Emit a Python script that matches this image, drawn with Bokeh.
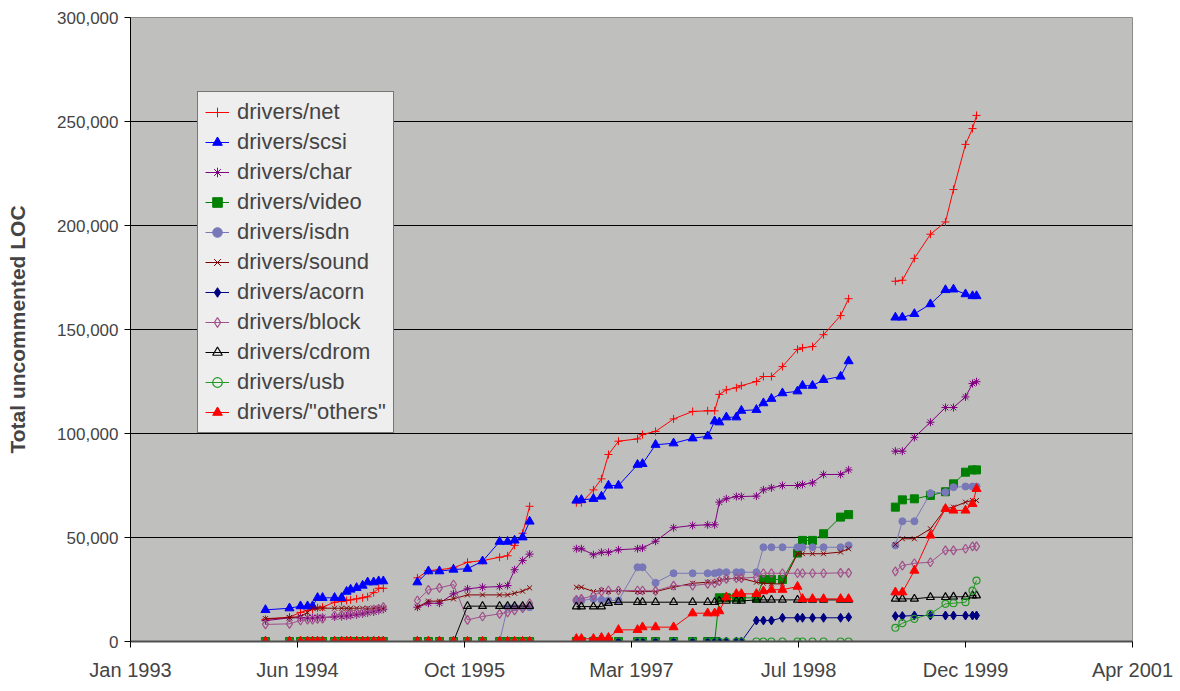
import numpy as np
import pandas as pd
from bokeh.plotting import figure
from bokeh.models import (Range1d, FixedTicker, NumeralTickFormatter,
                          Legend, LegendItem, ColumnDataSource)
from bokeh.embed import file_html
from bokeh.resources import INLINE

# ---- release dates of the four kernel release series ----
dates_s1 = ["1994-03-11", "1994-05-22", "1994-06-24", "1994-07-15", "1994-07-30", "1994-08-14",
            "1994-08-29", "1994-10-04", "1994-10-25", "1994-11-09", "1994-11-21", "1994-12-09",
            "1994-12-27", "1995-01-11", "1995-01-29", "1995-02-13", "1995-02-27"]
dates_s2 = ["1995-06-09", "1995-07-12", "1995-08-14", "1995-09-25", "1995-11-06", "1995-12-21",
            "1996-02-10", "1996-03-05", "1996-03-26", "1996-04-19", "1996-05-10"]
dates_s3 = ["1996-09-27", "1996-10-12", "1996-11-17", "1996-12-11", "1997-01-01", "1997-01-31",
            "1997-03-29", "1997-04-13", "1997-05-22", "1997-07-15", "1997-09-10", "1997-10-25",
            "1997-11-15", "1997-11-29", "1997-12-20", "1998-01-19", "1998-02-03", "1998-03-20",
            "1998-04-10", "1998-05-04", "1998-06-06", "1998-07-21", "1998-08-05", "1998-09-04",
            "1998-10-07", "1998-11-27", "1998-12-21"]
dates_s4 = ["1999-05-10", "1999-05-31", "1999-07-06", "1999-08-23", "1999-10-07", "1999-10-31",
            "1999-12-06", "1999-12-27", "2000-01-08"]

tick_dates = ["1993-01-31", "1994-06-15", "1995-10-28", "1997-03-11", "1998-07-24",
              "1999-12-06", "2001-04-19"]
tick_labels = ["Jan 1993", "Jun 1994", "Oct 1995", "Mar 1997", "Jul 1998", "Dec 1999", "Apr 2001"]
y_ticks = [0, 50000, 100000, 150000, 200000, 250000, 300000]

# ---- values (uncommented LOC) per series, one list per release series ----
net = [
    [10600, 11700, 14000, 15000, 15500, 16200, 16500, 18900, 19200, 19700, 20000, 20500, 21000, 21500, 23500, 25600, 25600],
    [30600, 34100, 34500, 35400, 38100, 38900, 40500, 41200, 46200, 52000, 65000],
    [66700, 66700, 72900, 78200, 89900, 96300, 97400, 99500, 101000, 107000, 110600, 110900, 110900, 118800,
     121000, 122000, 123000, 125000, 127400, 127400, 132200, 140400, 141200, 141800, 147500, 156700, 164800],
    [173200, 173700, 184200, 195800, 201700, 217300, 239000, 246600, 252900],
]
scsi = [
    [15200, 16000, 17000, 17000, 17000, 21000, 21000, 21000, 21000, 24000, 25000, 25800, 26900, 28500, 28500, 29000, 29000],
    [28500, 33800, 33800, 34600, 35000, 38600, 48000, 48000, 48600, 50100, 57700],
    [67800, 68100, 68600, 69700, 75000, 75000, 85000, 85400, 94600, 95300, 97700, 98700, 105900, 105400,
     107800, 107800, 111000, 111400, 114600, 116700, 119400, 120300, 123000, 123000, 125800, 127400, 134800],
    [155800, 155800, 157500, 162200, 169000, 169300, 167000, 166100, 166100],
]
char = [
    [10000, 11400, 11400, 11500, 11500, 11600, 11600, 11800, 12000, 12200, 12500, 12800, 13300, 13800, 14200, 14900, 15500],
    [16500, 18400, 18400, 22900, 25300, 26100, 26400, 26900, 34500, 38900, 42000],
    [44600, 44600, 41700, 42900, 42900, 44100, 44600, 44900, 48200, 54700, 55800, 56100, 56100, 67000,
     68600, 69700, 69700, 69900, 72900, 73900, 75000, 75000, 75500, 76300, 80300, 80300, 82500],
    [91500, 91500, 98100, 105400, 112500, 112500, 117600, 124000, 124900],
]
video = [
    [0, 0, 0, 0, 0, 0, 0, 0, 0, 0, 0, 0, 0, 0, 0, 0, 0],
    [0, 0, 0, 0, 0, 0, 0, 0, 0, 0, 0],
    [0, 0, 0, 0, 0, 0, 0, 0, 0, 0, 0, 0, 0, 21000,
     21000, 21000, 21000, 21000, 29800, 29800, 29800, 42500, 48600, 48600, 51800, 59800, 61000],
    [64600, 68100, 68600, 70200, 72000, 75800, 81400, 82500, 82500],
]
isdn = [
    [0, 0, 0, 0, 0, 0, 0, 0, 0, 0, 0, 0, 0, 0, 0, 0, 0],
    [0, 0, 0, 0, 0, 0, 0, 16500, 16500, 16500, 16500],
    [19700, 19700, 20500, 20000, 19700, 19700, 35700, 35700, 28200, 32800, 32800, 32800, 32800, 33300,
     33300, 33300, 33300, 33300, 45300, 45300, 45300, 45300, 45300, 45300, 45300, 45300, 46200],
    [46200, 57800, 57800, 71300, 71800, 74200, 74500, 74500, 74500],
]
sound = [
    [11000, 11500, 12000, 14000, 16000, 16000, 16000, 16000, 16000, 16000, 16000, 16000, 16000, 16000, 16000, 16000, 16000],
    [16500, 19400, 19400, 20500, 22400, 22400, 22400, 22400, 23200, 24200, 25800],
    [26100, 26100, 24000, 24500, 24000, 24500, 24000, 24000, 24000, 26100, 28000, 28500, 28500, 29300,
     30100, 30400, 30400, 28500, 28000, 27700, 27700, 42200, 42200, 42200, 42200, 43000, 44600],
    [46600, 49400, 49400, 54200, 63800, 64600, 67000, 67800, 67800],
]
acorn = [
    [0, 0, 0, 0, 0, 0, 0, 0, 0, 0, 0, 0, 0, 0, 0, 0, 0],
    [0, 0, 0, 0, 0, 0, 0, 0, 0, 0, 0],
    [0, 0, 0, 0, 0, 0, 0, 0, 0, 0, 0, 0, 0, 0,
     0, 0, 0, 10100, 10100, 10100, 11400, 11400, 11400, 11400, 11400, 11400, 11700],
    [12200, 12200, 12500, 12500, 12500, 12500, 12500, 12500, 12500],
]
block = [
    [8200, 8500, 10100, 10500, 10500, 10800, 11000, 12500, 12800, 13000, 13300, 13700, 14100, 14800, 15300, 15700, 16500],
    [19700, 24800, 25800, 27400, 10400, 12000, 13300, 14000, 15000, 16000, 18400],
    [20000, 20500, 22000, 24000, 24500, 24500, 24500, 24500, 24300, 26900, 26900, 27700, 28000, 29000,
     30100, 30400, 30500, 30900, 32800, 32800, 32800, 32800, 32800, 32800, 32800, 33000, 33000],
    [33700, 36500, 37600, 38100, 43800, 43800, 44600, 45700, 45700],
]
cdrom = [
    [0, 0, 0, 0, 0, 0, 0, 0, 0, 0, 0, 0, 0, 0, 0, 0, 0],
    [0, 0, 0, 0, 17000, 17000, 17000, 17000, 17000, 17000, 17000],
    [16800, 16800, 16800, 16800, 18500, 18900, 18900, 18900, 18900, 18900, 18900, 18900, 18900, 19500,
     19500, 19500, 19500, 20000, 20000, 20000, 20000, 20000, 20000, 20000, 20000, 20000, 20000],
    [20500, 20500, 20500, 21300, 21300, 21500, 21500, 22100, 22100],
]
usb = [
    [0, 0, 0, 0, 0, 0, 0, 0, 0, 0, 0, 0, 0, 0, 0, 0, 0],
    [0, 0, 0, 0, 0, 0, 0, 0, 0, 0, 0],
    [0, 0, 0, 0, 0, 0, 0, 0, 0, 0, 0, 0, 0, 0,
     0, 0, 0, 0, 0, 0, 0, 0, 0, 0, 0, 0, 0],
    [6600, 8800, 10900, 13300, 18100, 18400, 18900, 24500, 29300],
]
others = [
    [0, 0, 0, 0, 0, 0, 0, 0, 0, 0, 0, 0, 0, 0, 0, 0, 0],
    [0, 0, 0, 0, 0, 0, 0, 0, 0, 0, 0],
    [1300, 1300, 1300, 1800, 1800, 5600, 5600, 6900, 6900, 6900, 13600, 13600, 13600, 14600,
     21300, 22900, 22900, 22900, 24200, 24900, 24900, 26400, 20500, 20500, 20500, 20500, 20500],
    [23700, 23700, 34100, 51000, 63800, 63000, 63000, 66200, 73400],
]

series_labels = ["drivers/net", "drivers/scsi", "drivers/char", "drivers/video", "drivers/isdn",
                 "drivers/sound", "drivers/acorn", "drivers/block", "drivers/cdrom", "drivers/usb",
                 'drivers/"others"']
series_data = [net, scsi, char, video, isdn, sound, acorn, block, cdrom, usb, others]

# style: (line colour, marker, filled, size)
styles = [
    ("#ff0000", "cross", True, 8),
    ("#0000ff", "triangle", True, 9),
    ("#800080", "asterisk", True, 8),
    ("#008000", "square", True, 8),
    ("#7878b8", "circle", True, 7),
    ("#800000", "x", True, 7),
    ("#000080", "diamond", True, 9),
    ("#a0508a", "diamond", False, 9),
    ("#000000", "triangle", False, 8),
    ("#229922", "circle", False, 7),
    ("#ff0000", "triangle", True, 9),
]

segments = [dates_s1, dates_s2, dates_s3, dates_s4]


def build(series):
    xs, ys = [], []
    for k, (d, v) in enumerate(zip(segments, series)):
        dd = pd.to_datetime(d)
        if k:
            xs.append(dd[0] - pd.Timedelta(days=1))
            ys.append(np.nan)
        xs.extend(list(dd))
        ys.extend(v)
    return xs, ys


FONT = "Liberation Sans"

p = figure(width=1178, height=690, x_axis_type="datetime", output_backend="svg",
           toolbar_location=None, min_border_left=130, min_border_right=46,
           min_border_top=17, min_border_bottom=49,
           x_range=Range1d(pd.Timestamp(tick_dates[0]), pd.Timestamp(tick_dates[-1])),
           y_range=Range1d(0, 300000))

p.background_fill_color = "#bfbfbd"
p.border_fill_color = "white"
p.outline_line_color = "#8c8c8c"

p.xgrid.grid_line_color = None
p.ygrid.grid_line_color = "black"
p.ygrid.grid_line_width = 1
p.ygrid.ticker = FixedTicker(ticks=y_ticks)

p.yaxis.ticker = FixedTicker(ticks=y_ticks)
p.yaxis.formatter = NumeralTickFormatter(format="0,0")
p.yaxis.axis_label = "Total uncommented LOC"
p.yaxis.axis_label_text_font = FONT
p.yaxis.axis_label_text_font_style = "bold"
p.yaxis.axis_label_text_font_size = "21px"
p.yaxis.axis_label_standoff = 25
p.yaxis.major_label_text_font = FONT
p.yaxis.major_label_text_font_size = "17px"
p.yaxis.major_label_standoff = 6
p.yaxis.major_tick_out = 6
p.yaxis.major_tick_in = 0
p.yaxis.minor_tick_out = 0
p.yaxis.minor_tick_in = 0
p.yaxis.axis_line_color = "black"

tick_ms = [pd.Timestamp(d).value // 10**6 for d in tick_dates]
p.xaxis.ticker = FixedTicker(ticks=tick_ms)
p.xaxis.major_label_overrides = {t: lab for t, lab in zip(tick_ms, tick_labels)}
p.xaxis.major_label_text_font = FONT
p.xaxis.major_label_text_font_size = "20px"
p.xaxis.major_label_standoff = 11
p.xaxis.major_tick_out = 6
p.xaxis.major_tick_in = 0
p.xaxis.minor_tick_out = 0
p.xaxis.minor_tick_in = 0
p.xaxis.axis_line_color = "#505050"
p.xaxis.axis_line_width = 2
p.xaxis.major_tick_line_color = "black"

items = []
for label, data, (col, mk, filled, sz) in zip(series_labels, series_data, styles):
    xs, ys = build(data)
    src = ColumnDataSource(dict(x=xs, y=ys))
    lr = p.line("x", "y", source=src, line_color=col, line_width=1)
    sr = p.scatter("x", "y", source=src, marker=mk, size=sz, line_color=col,
                   fill_color=col if filled else None, line_width=1.2 if not filled else 1)
    items.append(LegendItem(label=label, renderers=[lr, sr]))

legend = Legend(items=items, location=(67, 208))
legend.label_text_font = FONT
legend.label_text_font_size = "22px"
legend.label_height = 24
legend.glyph_height = 24
legend.glyph_width = 24
legend.label_standoff = 8
legend.spacing = 4
legend.padding = 7
legend.margin = 0
legend.border_line_color = "black"
legend.border_line_width = 1
legend.background_fill_color = "#eeeeee"
legend.background_fill_alpha = 1
p.add_layout(legend)

open("out.html", "w").write(file_html(p, INLINE))
